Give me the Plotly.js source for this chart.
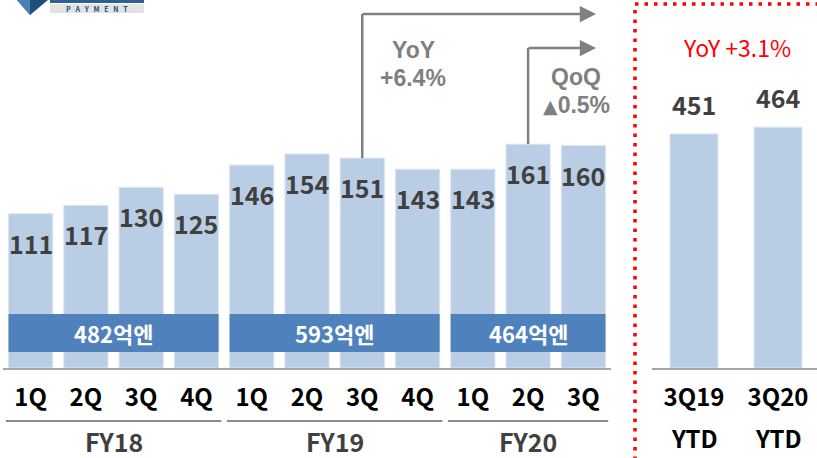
<!DOCTYPE html>
<html>
<head>
<meta charset="utf-8">
<script src="https://cdn.plot.ly/plotly-3.0.1.min.js"></script>
<style>html,body{margin:0;padding:0;background:#fff;}#chart{width:817px;height:458px;}</style>
</head>
<body>
<div id="chart"></div>
<script>
// ---- data ----
const quarters = ['1Q','2Q','3Q','4Q','1Q','2Q','3Q','4Q','1Q','2Q','3Q'];
const fiscalYears = ['FY18','FY18','FY18','FY18','FY19','FY19','FY19','FY19','FY20','FY20','FY20'];
const revenue = [111,117,130,125,146,154,151,143,143,161,160];
const groupLabels = ['FY18','FY19','FY20'];
const groupTotals = ['482억엔','593억엔','464억엔'];
const ytdLabels = ['3Q19','3Q20'];
const ytdSub = ['YTD','YTD'];
const ytdValues = [451,464];
const yoyLines = ['YoY', '+6.4%'];
const qoqLines = ['QoQ', '▲0.5%'];
const ytdYoyText = 'YoY +3.1%';

// ---- geometry helpers (layout only) ----
const W = 817, H = 458, PLOT_BOTTOM = 368;
const py = p => (PLOT_BOTTOM - p) / PLOT_BOTTOM; // pixel row -> paper y
const px = p => p / W;
const FONT = '"Noto Sans CJK KR", "Noto Sans", sans-serif';
const NARROW = '"Liberation Sans Narrow", "Noto Sans CJK KR", sans-serif';
const Y1MAX = 264.75, Y2MAX = 709;
const C = {xanchor: 'center', yanchor: 'middle', showarrow: false};

const ids = quarters.map((q, i) => fiscalYears[i] + ' ' + q);

const traces = [
  {type: 'bar', x: ids, y: revenue, xaxis: 'x', yaxis: 'y', width: 0.8,
   marker: {color: '#b9cde5', line: {color: '#dce6f2', width: 1}}, hoverinfo: 'skip'},
  {type: 'bar', x: ytdLabels, y: ytdValues, xaxis: 'x2', yaxis: 'y2', width: 0.571,
   marker: {color: '#b9cde5', line: {color: '#dce6f2', width: 1}}, hoverinfo: 'skip'}
];

const annotations = [];
const shapes = [];
const valFont = {family: NARROW, size: 25, color: '#404040', weight: 'bold'};

// value labels inside bars
revenue.forEach((v, i) => annotations.push(Object.assign({
  x: ids[i], y: v, xref: 'x', yref: 'y', yshift: -29, text: String(v), font: valFont}, C)));
// YTD labels above bars
ytdValues.forEach((v, i) => annotations.push(Object.assign({
  x: ytdLabels[i], y: v, xref: 'x2', yref: 'y2', yshift: 30, text: String(v), font: valFont}, C)));
ytdSub.forEach((s, i) => annotations.push(Object.assign({
  x: ytdLabels[i], y: py(437), xref: 'x2', yref: 'paper', text: s,
  font: {family: FONT, size: 24, color: '#000', weight: 'bold'}}, C)));

// groups: underline, FY label, total banner
groupLabels.forEach((g, gi) => {
  const idx = fiscalYears.map((f, i) => f === g ? i : -1).filter(i => i >= 0);
  const s = idx[0], e = idx[idx.length - 1];
  shapes.push({type: 'line', xref: 'x', yref: 'paper', x0: s - 0.5 + 0.05, x1: e + 0.5 - 0.05,
    y0: py(421), y1: py(421), line: {color: '#8c8c8c', width: 2}});
  annotations.push(Object.assign({x: (s + e) / 2, y: py(441), xref: 'x', yref: 'paper', text: g,
    font: {family: FONT, size: 25, color: '#404040', weight: 'bold'}}, C));
  shapes.push({type: 'rect', xref: 'x', yref: 'paper', x0: s - 0.4, x1: e + 0.4,
    y0: py(352), y1: py(314), fillcolor: '#4f81bd', line: {width: 0}});
  annotations.push(Object.assign({x: (s + e) / 2, y: py(333), xref: 'x', yref: 'paper', text: groupTotals[gi],
    font: {family: FONT, size: 22, color: '#ffffff', weight: 'bold'}}, C));
});

// growth arrows
function growthArrow(idx, topPx) {
  shapes.push({type: 'line', xref: 'x', yref: 'paper', x0: idx, x1: idx,
    y0: revenue[idx] / Y1MAX, y1: py(topPx), line: {color: '#808080', width: 2.5}});
  annotations.push({x: 10.23, y: py(topPx), xref: 'x', yref: 'paper', axref: 'x', ax: idx - 0.02,
    ayref: 'pixel', ay: 0, text: '', showarrow: true, arrowhead: 2, arrowsize: 1.3,
    arrowwidth: 2.5, arrowcolor: '#808080', standoff: 0, startstandoff: 0});
}
growthArrow(ids.indexOf('FY19 3Q'), 14);
growthArrow(ids.indexOf('FY20 2Q'), 48);
const growthFont = {family: '"Liberation Sans", "DejaVu Sans", sans-serif', size: 23, color: '#7f7f7f', weight: 'bold'};
const bigTriangle = t => t.replace('▲', '<span style="font-family:DejaVu Sans;font-size:19px">▲</span>');
[[yoyLines, 413, 50], [qoqLines, 576, 77]].forEach(([lines, cx, cy]) => {
  lines.forEach((t, k) => annotations.push(Object.assign({x: px(cx), y: py(cy + 28 * k),
    xref: 'paper', yref: 'paper', text: bigTriangle(t), font: growthFont}, C)));
});
annotations.push(Object.assign({x: px(737), y: py(47), xref: 'paper', yref: 'paper', text: ytdYoyText,
  font: {family: FONT, size: 23, color: '#ff0000'}}, C));

// red dotted frame
shapes.push({type: 'path', xref: 'paper', yref: 'paper',
  path: `M ${px(635)},${py(460)} L ${px(635)},${py(4)} L ${px(820)},${py(4)}`,
  line: {color: '#ff0000', width: 3.5, dash: '3.5px,6px'}});

// logo fragment
shapes.push({type: 'path', xref: 'paper', yref: 'paper',
  path: `M ${px(17)},${py(0)} L ${px(48)},${py(0)} L ${px(30)},${py(15)} Z`,
  fillcolor: '#1f4e79', line: {width: 0}});
shapes.push({type: 'path', xref: 'paper', yref: 'paper',
  path: `M ${px(17)},${py(0)} L ${px(30)},${py(0)} L ${px(30)},${py(15)} Z`,
  fillcolor: '#4a7fb5', line: {width: 0}});
shapes.push({type: 'rect', xref: 'paper', yref: 'paper', x0: px(50), x1: px(144), y0: py(3), y1: py(0),
  fillcolor: '#2f5f92', line: {width: 0}});
shapes.push({type: 'rect', xref: 'paper', yref: 'paper', x0: px(50), x1: px(144), y0: py(13), y1: py(4),
  fillcolor: '#e3e3e3', line: {width: 0}});
annotations.push(Object.assign({x: px(97), y: py(8.5), xref: 'paper', yref: 'paper', text: 'P   A   Y   M   E   N   T',
  font: {family: FONT, size: 7, color: '#1f4e79', weight: 'bold'}}, C));

const tickFont = {family: FONT, size: 24, color: '#000', weight: 'bold'};
const layout = {
  width: W, height: H,
  margin: {l: 0, r: 0, t: 0, b: H - PLOT_BOTTOM, pad: 0},
  paper_bgcolor: '#fff', plot_bgcolor: '#fff',
  showlegend: false, bargap: 0.2,
  xaxis: {domain: [px(3), px(611)], type: 'category', range: [-0.5, 10.5], anchor: 'y',
    tickvals: ids, ticktext: quarters, showline: true, linecolor: '#a6a6a6', linewidth: 1.5,
    showgrid: false, zeroline: false, ticks: '', ticklabelstandoff: 8,
    tickfont: tickFont, fixedrange: true},
  yaxis: {domain: [0, 1], range: [0, Y1MAX], visible: false, anchor: 'x', fixedrange: true},
  xaxis2: {domain: [px(652), 1], type: 'category', range: [-0.5, 1.464], anchor: 'y2',
    tickvals: ytdLabels, ticktext: ytdLabels, showline: true, linecolor: '#a6a6a6', linewidth: 1.5,
    showgrid: false, zeroline: false, ticks: '', ticklabelstandoff: 8,
    tickfont: tickFont, fixedrange: true},
  yaxis2: {domain: [0, 1], range: [0, Y2MAX], visible: false, anchor: 'x2', fixedrange: true},
  annotations: annotations, shapes: shapes
};

Plotly.newPlot('chart', traces, layout, {displayModeBar: false, staticPlot: true});
</script>
</body>
</html>
